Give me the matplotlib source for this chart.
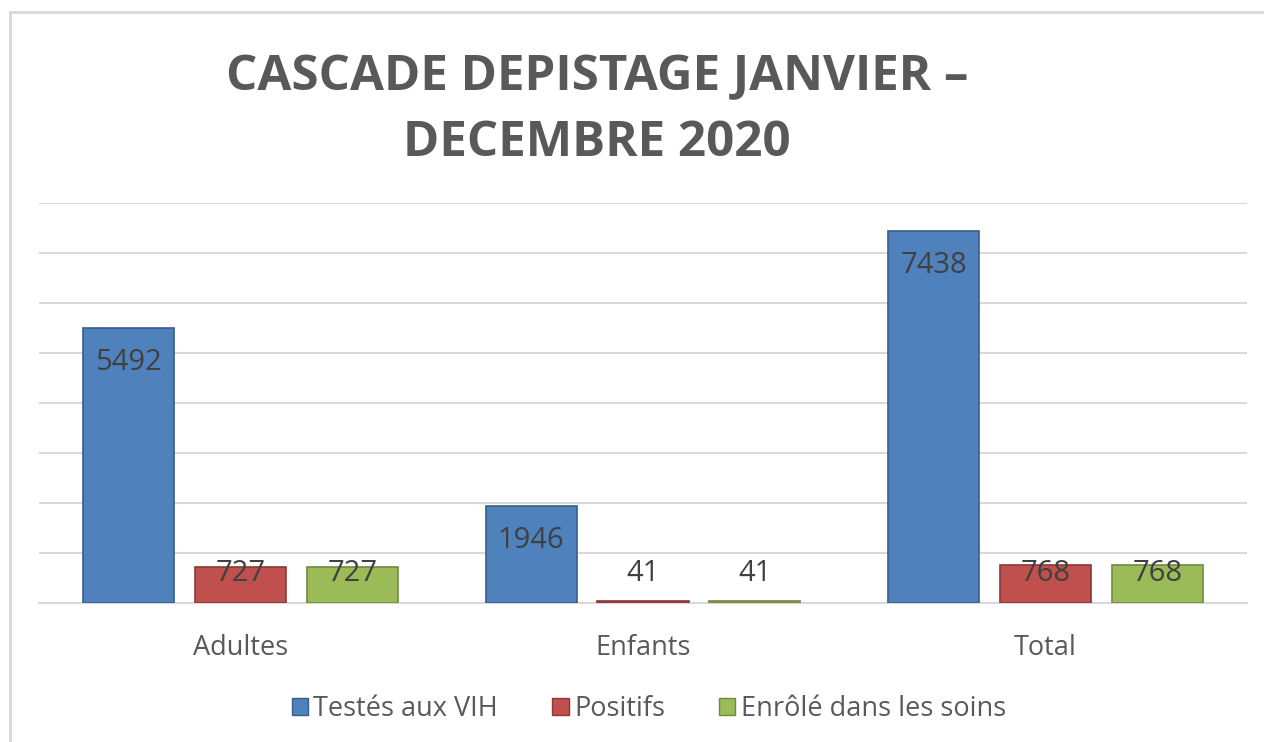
import matplotlib.pyplot as plt
import numpy as np
from matplotlib.patches import Rectangle, Patch

categories = ['Adultes', 'Enfants', 'Total']
series_names = ['Testés aux VIH', 'Positifs', 'Enrôlé dans les soins']
testes = [5492, 1946, 7438]
positifs = [727, 41, 768]
enroles = [727, 41, 768]

title = 'CASCADE DEPISTAGE JANVIER –\nDECEMBRE 2020'

face_colors = ['#4F81BD', '#C0504D', '#9BBB59']
edge_colors = ['#385D8A', '#8C3836', '#71893F']
text_gray = '#595959'
grid_gray = '#D9D9D9'

plt.rcParams['font.family'] = ['Open Sans', 'DejaVu Sans']

fig = plt.figure(figsize=(12.64, 7.42), dpi=100)
fig.patches.append(Rectangle((10 / 1264, -0.02), 1.1, 0.02 + (742 - 12) / 742,
                             transform=fig.transFigure, fill=False,
                             edgecolor=grid_gray, linewidth=2))

ax = fig.add_axes([39 / 1264, (742 - 603) / 742, 1208 / 1264, 400 / 742])

x = np.arange(len(categories))
width = 0.226
offsets = [-0.278, 0, 0.278]
all_series = [testes, positifs, enroles]

for vals, off, fc, ec in zip(all_series, offsets, face_colors, edge_colors):
    ax.bar(x + off, vals, width, color=fc, edgecolor=ec, linewidth=1.2, zorder=3)
    for xi, v in zip(x + off, vals):
        ax.text(xi, max(v - 690, 590), str(v), ha='center', va='center',
                fontsize=21, color='#404040', zorder=4)

ax.set_xlim(-0.5, 2.5)
ax.set_ylim(0, 8000)
ax.set_yticks(np.arange(0, 8001, 1000))
ax.yaxis.grid(True, color=grid_gray, linewidth=1.5)
ax.set_axisbelow(True)
ax.tick_params(left=False, labelleft=False, bottom=False)
ax.set_xticks(x)
ax.set_xticklabels(categories, fontsize=19.5, color=text_gray)
ax.tick_params(axis='x', pad=19)
for s in ['left', 'right', 'top']:
    ax.spines[s].set_visible(False)
ax.spines['bottom'].set_color(grid_gray)
ax.spines['bottom'].set_linewidth(1.5)

fig.text(597 / 1264, (742 - 111) / 742, title, ha='center', va='center',
         fontsize=35.5, fontweight='bold', color=text_gray, linespacing=1.45)

handles = [Patch(facecolor=fc, edgecolor=ec) for fc, ec in zip(face_colors, edge_colors)]
fig.legend(handles, series_names, loc='center', bbox_to_anchor=(649 / 1264, 33 / 742),
           ncol=3, frameon=False, fontsize=19.5, labelcolor=text_gray,
           handlelength=0.6, handleheight=0.6, handletextpad=0.2, columnspacing=2.0)

fig.savefig('out.png', dpi=100)
